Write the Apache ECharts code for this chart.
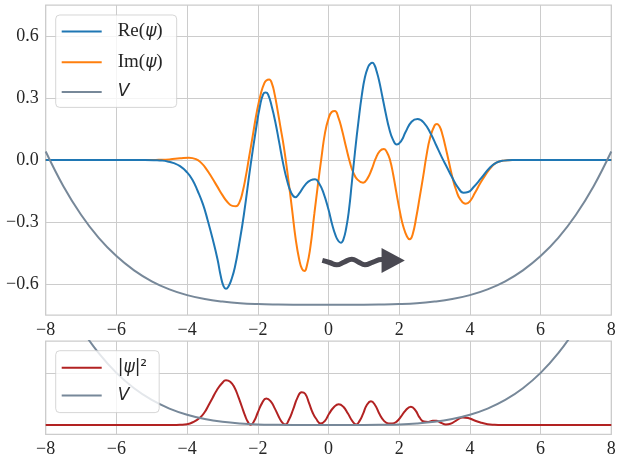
<!DOCTYPE html>
<html><head><meta charset="utf-8">
<script src="https://cdn.jsdelivr.net/npm/echarts@6/dist/echarts.min.js"></script>
<style>html,body{margin:0;padding:0;background:#fff}#c{width:617px;height:456px}</style>
</head><body><div id="c"></div>
<script>
// ---- tick values ----
const xTicks = [-8, -6, -4, -2, 0, 2, 4, 6, 8];
const yTicksTop = [-0.6, -0.3, 0, 0.3, 0.6];
const yGridBottom = [0, 0.5];

// ---- Re(psi) ----
const reX = [-8,-5.2,-4.9,-4.7,-4.55,-4.4,-4.2,-4.0,-3.85,-3.7,-3.55,-3.42,-3.28,-3.14,-3.05,-2.97,-2.9,-2.83,-2.75,-2.65,-2.52,-2.39,-2.2,-2.06,-1.94,-1.85,-1.78,-1.71,-1.6,-1.5,-1.4,-1.28,-1.17,-1.05,-0.94,-0.82,-0.66,-0.5,-0.38,-0.26,-0.14,0.0,0.1,0.2,0.28,0.35,0.42,0.5,0.58,0.66,0.75,0.85,0.94,1.03,1.12,1.18,1.24,1.3,1.36,1.43,1.52,1.62,1.72,1.82,1.93,2.05,2.18,2.35,2.52,2.7,2.9,3.05,3.2,3.35,3.5,3.66,3.82,3.95,4.1,4.32,4.55,4.75,4.95,5.2,8];
const reY = [0,0,-0.001,-0.003,-0.007,-0.014,-0.03,-0.06,-0.095,-0.15,-0.215,-0.29,-0.38,-0.48,-0.56,-0.61,-0.623,-0.612,-0.58,-0.52,-0.40,-0.26,-0.02,0.14,0.26,0.318,0.327,0.318,0.255,0.18,0.09,-0.02,-0.10,-0.16,-0.18,-0.16,-0.12,-0.097,-0.093,-0.115,-0.16,-0.24,-0.31,-0.365,-0.392,-0.40,-0.385,-0.33,-0.24,-0.11,0.04,0.19,0.31,0.40,0.45,0.465,0.47,0.46,0.43,0.385,0.31,0.225,0.15,0.10,0.075,0.09,0.135,0.185,0.198,0.18,0.125,0.07,0.015,-0.035,-0.085,-0.132,-0.158,-0.155,-0.132,-0.088,-0.04,-0.013,-0.003,0,0];

// ---- Im(psi) ----
const imX = [-8,-5.1,-4.8,-4.5,-4.2,-3.95,-3.75,-3.6,-3.45,-3.3,-3.14,-3.0,-2.86,-2.72,-2.62,-2.52,-2.43,-2.34,-2.25,-2.14,-2.02,-1.9,-1.82,-1.76,-1.68,-1.6,-1.52,-1.44,-1.36,-1.26,-1.14,-1.03,-0.93,-0.83,-0.75,-0.68,-0.61,-0.52,-0.4,-0.3,-0.2,-0.1,0.0,0.09,0.18,0.28,0.38,0.5,0.61,0.7,0.82,0.98,1.1,1.22,1.33,1.45,1.57,1.66,1.74,1.83,1.92,2.02,2.11,2.22,2.3,2.38,2.49,2.58,2.68,2.77,2.87,3.0,3.07,3.14,3.22,3.3,3.4,3.52,3.62,3.72,3.88,4.0,4.14,4.3,4.45,4.6,4.75,4.95,5.2,8];
const imY = [0,0,0.001,0.003,0.008,0.011,0.004,-0.014,-0.045,-0.085,-0.13,-0.17,-0.203,-0.222,-0.224,-0.205,-0.155,-0.08,0.01,0.12,0.24,0.33,0.37,0.385,0.39,0.37,0.315,0.24,0.16,0.06,-0.09,-0.24,-0.38,-0.48,-0.527,-0.537,-0.51,-0.43,-0.26,-0.12,0.01,0.13,0.2,0.232,0.237,0.205,0.146,0.06,-0.014,-0.06,-0.095,-0.11,-0.09,-0.046,0.005,0.043,0.053,0.035,0.0,-0.07,-0.158,-0.25,-0.318,-0.37,-0.384,-0.36,-0.27,-0.18,-0.078,0.02,0.105,0.167,0.174,0.163,0.125,0.07,-0.005,-0.094,-0.15,-0.188,-0.212,-0.2,-0.16,-0.11,-0.07,-0.035,-0.013,-0.003,0,0];

// ---- potential V ----
const vX = [-8,-7.5,-7,-6.5,-6,-5.5,-5,-4.5,-4,-3.5,-3,-2.5,-2,-1.5,-1,-0.5,0,0.5,1,1.5,2,2.5,3,3.5,4,4.5,5,5.5,6,6.5,7,7.5,8];
const vTop = [0.041,-0.127,-0.265,-0.377,-0.465,-0.534,-0.587,-0.626,-0.654,-0.673,-0.685,-0.693,-0.697,-0.699,-0.700,-0.700,-0.700,-0.700,-0.700,-0.699,-0.697,-0.693,-0.685,-0.673,-0.654,-0.626,-0.587,-0.534,-0.465,-0.377,-0.265,-0.127,0.041];
const vBottom = [1.58,1.22,0.927,0.689,0.5,0.353,0.241,0.158,0.099,0.058,0.031,0.015,0.006,0.002,0,0,0,0,0,0.002,0.006,0.015,0.031,0.058,0.099,0.158,0.241,0.353,0.5,0.689,0.927,1.22,1.58];

// ---- |psi|^2 ----
const probX = [-8,-4.4,-4.2,-4.0,-3.82,-3.63,-3.5,-3.4,-3.28,-3.16,-3.02,-2.9,-2.78,-2.66,-2.55,-2.45,-2.36,-2.28,-2.2,-2.1,-2.0,-1.88,-1.76,-1.64,-1.52,-1.4,-1.3,-1.22,-1.12,-1.0,-0.88,-0.76,-0.66,-0.55,-0.45,-0.35,-0.22,-0.1,0.02,0.15,0.29,0.42,0.55,0.67,0.78,0.88,0.98,1.08,1.2,1.32,1.45,1.57,1.7,1.8,1.92,2.05,2.18,2.33,2.46,2.58,2.7,2.82,2.95,3.05,3.18,3.32,3.45,3.6,3.8,3.95,4.1,4.3,4.5,4.7,4.9,8];
const probY = [0,0,0.002,0.008,0.03,0.073,0.125,0.185,0.26,0.334,0.398,0.43,0.415,0.36,0.27,0.175,0.09,0.03,0.002,0.04,0.12,0.21,0.255,0.23,0.16,0.075,0.02,0.005,0.05,0.15,0.26,0.315,0.3,0.21,0.12,0.06,0.015,0.04,0.11,0.17,0.2,0.175,0.11,0.04,0.004,0.04,0.11,0.19,0.229,0.19,0.1,0.04,0.015,0.014,0.03,0.08,0.14,0.175,0.14,0.07,0.033,0.03,0.04,0.04,0.022,0.006,0.012,0.04,0.073,0.068,0.048,0.024,0.008,0.002,0,0];

// ---- wavy arrow annotation ----
const waveX = [-0.175,0.03,0.23,0.44,0.66,0.85,1.03,1.26,1.5,1.6];
const waveY = [-0.486,-0.496,-0.507,-0.494,-0.480,-0.494,-0.507,-0.494,-0.482,-0.482];
const arrowHead = [1.83, -0.486];

const pairs = (xs, ys) => xs.map((x, i) => [x, ys[i]]);
const SERIF = 'Liberation Serif';
const SANS = 'DejaVu Sans';
const TXT = '#262626';
const GRIDC = '#cccccc';
const minus = s => String(s).replace('-', '\u2212');

const labelFmtX = v => minus(v);
const labelFmtY = v => minus(Number(v).toFixed(1));

const legendFmt = {
  'Re(ψ)': '{rm|Re(}{it|ψ}{rm|)}',
  'Im(ψ)': '{rm|Im(}{it|ψ}{rm|)}',
  'V': '{it|V}',
  '|ψ|²': '{sn||}{it|ψ}{sn||²}'
};
const richLegend = {
  rm: {fontFamily: SERIF, fontSize: 19, color: TXT, lineHeight: 20},
  it: {fontFamily: SANS, fontStyle: 'italic', fontSize: 17, color: TXT, lineHeight: 20},
  sn: {fontFamily: SANS, fontSize: 17, color: TXT, lineHeight: 20}
};
// line icon 40px long inside a 51px wide slot (keeps text 16px after the line)
const LINE_ICON = 'path://M0,0H40V2H0ZM51,2';

function xAxisFor(gi) {
  return {
    type: 'value', gridIndex: gi, min: -8, max: 8, interval: 2,
    axisLine: {show: false}, axisTick: {show: false},
    splitLine: {show: true, lineStyle: {color: GRIDC, width: 1}},
    axisLabel: {margin: 6, fontFamily: SERIF, fontSize: 18, color: TXT, formatter: labelFmtX,
      showMinLabel: true, showMaxLabel: true, hideOverlap: false}
  };
}

const legendCommon = {
  orient: 'vertical', itemWidth: 51, itemHeight: 20, icon: LINE_ICON, symbolKeepAspect: true,
  backgroundColor: 'rgba(255,255,255,0.8)', borderColor: 'rgba(204,204,204,0.8)', borderWidth: 1, borderRadius: 4,
  formatter: n => legendFmt[n], textStyle: {rich: richLegend}, selectedMode: false
};

const chart = echarts.init(document.getElementById('c'), null, {renderer: 'canvas'});
chart.setOption({
  backgroundColor: '#ffffff',
  animation: false,
  grid: [
    {left: 45.7, top: 5, width: 565.6, height: 310, show: true, borderColor: GRIDC, borderWidth: 1.25, backgroundColor: 'transparent', containLabel: false, outerBoundsMode: 'none'},
    {left: 45.7, top: 341, width: 565.6, height: 93.3, show: true, borderColor: GRIDC, borderWidth: 1.25, backgroundColor: 'transparent', containLabel: false, outerBoundsMode: 'none'}
  ],
  xAxis: [xAxisFor(0), xAxisFor(1)],
  yAxis: [
    {type: 'value', gridIndex: 0, min: -0.75, max: 0.75,
      axisLine: {show: false},
      axisTick: {show: false, customValues: yTicksTop},
      splitLine: {show: true, lineStyle: {color: GRIDC, width: 1}},
      axisLabel: {margin: 7, fontFamily: SERIF, fontSize: 18, color: TXT, formatter: labelFmtY, customValues: yTicksTop}},
    {type: 'value', gridIndex: 1, min: -0.089, max: 0.806,
      axisLine: {show: false},
      axisTick: {show: false, customValues: yGridBottom},
      splitLine: {show: true, lineStyle: {color: GRIDC, width: 1}},
      axisLabel: {show: false, customValues: yGridBottom}}
  ],
  legend: [
    Object.assign({}, legendCommon, {data: ['Re(ψ)', 'Im(ψ)', 'V'], left: 55.7, top: 15,
      itemGap: 11.7, padding: [7, 14, 7, 6]}),
    Object.assign({}, legendCommon, {data: ['|ψ|²', 'V'], left: 55.7, top: 350.7,
      itemGap: 10.7, padding: [8.6, 12, 8.6, 6]})
  ],
  series: [
    {name: 'Im(ψ)', type: 'line', xAxisIndex: 0, yAxisIndex: 0, data: pairs(imX, imY), smooth: 0.5, symbol: 'none',
      lineStyle: {color: '#ff7f0e', width: 2}, itemStyle: {color: '#ff7f0e'}, silent: true, z: 2},
    {name: 'Re(ψ)', type: 'line', xAxisIndex: 0, yAxisIndex: 0, data: pairs(reX, reY), smooth: 0.5, symbol: 'none',
      lineStyle: {color: '#1f77b4', width: 2}, itemStyle: {color: '#1f77b4'}, silent: true, z: 2},
    {name: 'V', type: 'line', xAxisIndex: 0, yAxisIndex: 0, data: pairs(vX, vTop), smooth: 0.4, symbol: 'none',
      lineStyle: {color: '#778899', width: 2}, itemStyle: {color: '#778899'}, silent: true, z: 2},
    {name: 'arrow', type: 'line', xAxisIndex: 0, yAxisIndex: 0, data: pairs(waveX, waveY), smooth: 0.5, symbol: 'none',
      lineStyle: {color: '#4a4952', width: 5, cap: 'butt'}, silent: true, z: 3},
    {name: 'arrowHead', type: 'scatter', xAxisIndex: 0, yAxisIndex: 0, data: [arrowHead], symbol: 'triangle',
      symbolSize: [25, 23.3], symbolRotate: -90, itemStyle: {color: '#4a4952', opacity: 1}, silent: true, z: 3},
    {name: '|ψ|²', type: 'line', xAxisIndex: 1, yAxisIndex: 1, data: pairs(probX, probY), smooth: 0.5, symbol: 'none',
      lineStyle: {color: '#b22222', width: 2}, itemStyle: {color: '#b22222'}, silent: true},
    {name: 'V', type: 'line', xAxisIndex: 1, yAxisIndex: 1, data: pairs(vX, vBottom), smooth: 0.4, symbol: 'none',
      lineStyle: {color: '#778899', width: 2}, itemStyle: {color: '#778899'}, silent: true, clip: true}
  ]
});
</script>
</body></html>
